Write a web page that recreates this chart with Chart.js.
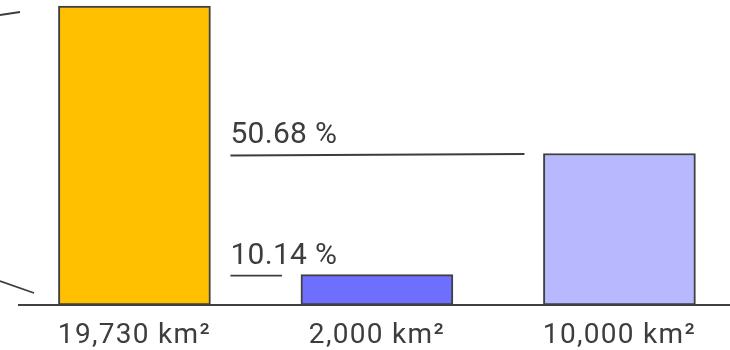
<!DOCTYPE html>
<html>
<head>
<meta charset="utf-8">
<script src="https://cdn.jsdelivr.net/npm/chart.js@4"></script>
<style>
  html, body { margin: 0; padding: 0; background: #fff; overflow: hidden; }
  #wrap { width: 730px; height: 350px; position: relative; }
</style>
</head>
<body>
<div id="wrap"><canvas id="areaChart"></canvas></div>
<script>
// areas in km²
let areaLabels = ["19,730 km²", "2,000 km²", "10,000 km²"];
let areaValues = [19730, 2000, 10000];
let barColors = ["#FFC000", "#6E6EFF", "#B8B8FF"];
// share of the first area, shown next to bars 3 and 2
let shareLabels = ["50.68 %", "10.14 %"];
let shareBars = [2, 1];

let inkColor = "#3d3d3d";

// wider spacing for the axis labels
let spacingPlugin = {
    id: "spacing",
    beforeDraw(chart){
        chart.ctx.letterSpacing = "1.3px";
    }
};

// helper lines and percent labels
let sharePlugin = {
    id: "shares",
    afterDatasetsDraw(chart){
        let ctx = chart.ctx;
        let y = chart.scales.y;
        let meta = chart.getDatasetMeta(0);
        let firstRight = meta.data[0].x + meta.data[0].width / 2;
        ctx.save();
        ctx.letterSpacing = "0.3px";
        ctx.strokeStyle = inkColor;
        ctx.lineWidth = 1.8;

        // connector stubs on the left edge
        ctx.beginPath();
        ctx.moveTo(0, 15);
        ctx.lineTo(20, 12);
        ctx.moveTo(0, 281);
        ctx.lineTo(34, 293);
        ctx.stroke();

        ctx.fillStyle = inkColor;
        ctx.font = "400 30px Roboto";
        ctx.textAlign = "left";
        ctx.textBaseline = "alphabetic";
        for(let i = 0; i < shareLabels.length; i++){
            let bar = meta.data[shareBars[i]];
            let lineY = y.getPixelForValue(areaValues[shareBars[i]]) + 1;
            let x0 = firstRight + 20;
            let x1 = bar.x - bar.width / 2 - 19;
            ctx.beginPath();
            ctx.moveTo(x0, lineY + (i == 0 ? 1 : 0));
            ctx.lineTo(x1, lineY - (i == 0 ? 0.5 : 0));
            ctx.stroke();
            ctx.fillText(shareLabels[i], x0, lineY - 12);
        }
        ctx.restore();
    }
};

let areaChart = new Chart(document.getElementById("areaChart"),
{
    type: "bar",
    data: {
        datasets: [{
            data: areaValues.map((v, i) => ({x: i, y: v})),
            backgroundColor: barColors,
            borderColor: "#404040",
            borderWidth: 2,
            borderSkipped: false,
            barThickness: 152
        }]
    },
    options: {
        responsive: true,
        maintainAspectRatio: false,
        animation: false,
        events: [],
        layout: { padding: { top: 2, left: 19, right: 0, bottom: 0 } },
        plugins: { legend: { display: false }, tooltip: { enabled: false } },
        scales: {
            x: {
                type: "linear",
                bounds: "data",
                offset: false,
                min: -0.476,
                max: 2.456,
                grid: { display: false, drawTicks: false, offset: false },
                border: { display: true, color: "#404040", width: 2 },
                afterBuildTicks: s => { s.ticks = areaLabels.map((_, i) => ({value: i})); },
                afterFit: s => { s.height = 45; },
                ticks: {
                    autoSkip: false,
                    maxRotation: 0,
                    padding: 14,
                    color: inkColor,
                    font: { family: "Roboto", size: 28, weight: 400 },
                    callback: v => areaLabels[v]
                }
            },
            y: {
                display: false,
                min: 0,
                max: 20000
            }
        }
    },
    plugins: [spacingPlugin, sharePlugin]
});
</script>
</body>
</html>
